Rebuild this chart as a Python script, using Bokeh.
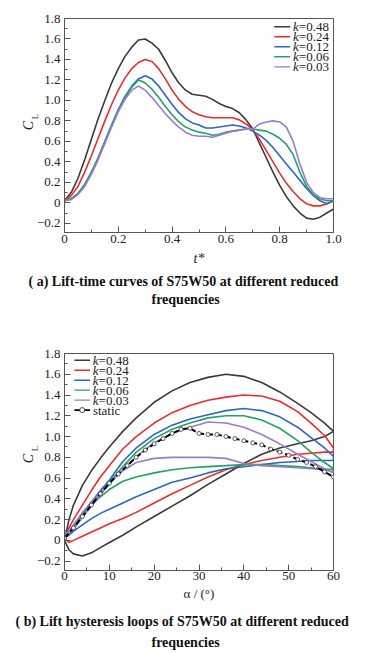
from bokeh.plotting import figure
from bokeh.models import Range1d, FixedTicker, Title, LinearAxis
from bokeh.layouts import column
from bokeh.core.properties import value
from bokeh.embed import file_html
from bokeh.resources import INLINE

# ---------------- data: (a) lift-time curves ----------------
t_star = [0, 0.025, 0.05, 0.075, 0.1, 0.125, 0.15, 0.175, 0.2, 0.225, 0.25, 0.275,
          0.3, 0.325, 0.35, 0.375, 0.4, 0.425, 0.45, 0.475, 0.5, 0.525, 0.55, 0.575,
          0.6, 0.625, 0.65, 0.675, 0.7, 0.725, 0.75, 0.775, 0.8, 0.825, 0.85, 0.875,
          0.9, 0.925, 0.95, 0.975, 1.0]
cl_t_k048 = [0.02, 0.10, 0.24, 0.42, 0.62, 0.82, 1.00, 1.17, 1.31, 1.43, 1.52, 1.59,
             1.60, 1.56, 1.50, 1.39, 1.27, 1.17, 1.10, 1.06, 1.05, 1.04, 1.01, 0.97,
             0.94, 0.92, 0.88, 0.81, 0.72, 0.58, 0.44, 0.30, 0.17, 0.06, -0.03, -0.10,
             -0.15, -0.16, -0.14, -0.10, -0.06]
cl_t_k024 = [0.02, 0.07, 0.16, 0.30, 0.46, 0.63, 0.80, 0.96, 1.10, 1.22, 1.31, 1.37,
             1.40, 1.38, 1.31, 1.21, 1.10, 1.01, 0.94, 0.89, 0.86, 0.84, 0.83, 0.83,
             0.83, 0.83, 0.81, 0.77, 0.71, 0.62, 0.51, 0.40, 0.29, 0.19, 0.11, 0.04,
             -0.01, -0.03, -0.03, -0.01, 0.02]
cl_t_k012 = [0.02, 0.04, 0.09, 0.18, 0.30, 0.44, 0.60, 0.76, 0.91, 1.04, 1.14, 1.21,
             1.24, 1.21, 1.14, 1.05, 0.96, 0.88, 0.82, 0.78, 0.76, 0.73, 0.73, 0.74,
             0.75, 0.76, 0.75, 0.73, 0.70, 0.66, 0.61, 0.54, 0.46, 0.38, 0.30, 0.22,
             0.14, 0.07, 0.02, -0.01, 0.02]
cl_t_k006 = [0.02, 0.04, 0.09, 0.17, 0.29, 0.43, 0.59, 0.75, 0.90, 1.03, 1.13, 1.20,
             1.17, 1.11, 1.03, 0.94, 0.86, 0.79, 0.74, 0.71, 0.69, 0.68, 0.66, 0.67,
             0.69, 0.70, 0.71, 0.72, 0.72, 0.71, 0.70, 0.67, 0.63, 0.57, 0.47, 0.30,
             0.16, 0.08, 0.04, 0.02, 0.02]
cl_t_k003 = [0.02, 0.03, 0.08, 0.16, 0.28, 0.42, 0.58, 0.74, 0.89, 1.01, 1.10, 1.14,
             1.10, 1.03, 0.95, 0.87, 0.80, 0.74, 0.69, 0.66, 0.65, 0.65, 0.64, 0.66,
             0.68, 0.70, 0.71, 0.72, 0.72, 0.77, 0.79, 0.80, 0.79, 0.74, 0.60, 0.38,
             0.20, 0.10, 0.05, 0.04, 0.04]

# ---------------- data: (b) hysteresis loops ----------------
alpha_up = [0, 1, 2, 4, 6, 8, 10, 13, 16, 20, 24, 28, 32, 36, 40, 44, 48, 52, 55, 58, 60]
alpha_down = [60, 58, 55, 52, 48, 44, 40, 36, 32, 28, 24, 20, 16, 13, 10, 8, 6, 4, 2, 1, 0]
cl_up_k048 = [0.00, 0.20, 0.34, 0.53, 0.67, 0.79, 0.90, 1.05, 1.18, 1.33, 1.44, 1.52,
              1.57, 1.60, 1.58, 1.52, 1.43, 1.32, 1.23, 1.13, 1.05]
cl_dn_k048 = [1.05, 1.00, 0.96, 0.93, 0.89, 0.83, 0.74, 0.64, 0.54, 0.43, 0.33, 0.23,
              0.13, 0.05, -0.02, -0.07, -0.12, -0.15, -0.13, -0.09, 0.00]
cl_up_k024 = [0.02, 0.12, 0.20, 0.34, 0.48, 0.61, 0.72, 0.88, 1.00, 1.13, 1.23, 1.30,
              1.35, 1.38, 1.40, 1.39, 1.34, 1.24, 1.13, 1.01, 0.89]
cl_dn_k024 = [0.85, 0.85, 0.84, 0.83, 0.80, 0.77, 0.73, 0.68, 0.61, 0.53, 0.45, 0.36,
              0.27, 0.21, 0.16, 0.12, 0.08, 0.04, 0.00, -0.02, 0.02]
cl_up_k012 = [0.02, 0.07, 0.12, 0.25, 0.37, 0.48, 0.58, 0.76, 0.89, 1.02, 1.11, 1.17,
              1.21, 1.25, 1.27, 1.25, 1.19, 1.09, 0.99, 0.89, 0.81]
cl_dn_k012 = [0.77, 0.77, 0.77, 0.76, 0.75, 0.73, 0.71, 0.69, 0.65, 0.60, 0.56, 0.49,
              0.42, 0.36, 0.30, 0.26, 0.21, 0.15, 0.09, 0.05, 0.02]
cl_up_k006 = [0.02, 0.07, 0.12, 0.24, 0.35, 0.46, 0.56, 0.71, 0.85, 0.98, 1.07, 1.13,
              1.18, 1.20, 1.20, 1.16, 1.08, 0.96, 0.85, 0.75, 0.69]
cl_dn_k006 = [0.68, 0.69, 0.70, 0.71, 0.72, 0.73, 0.73, 0.72, 0.71, 0.70, 0.68, 0.65,
              0.61, 0.57, 0.49, 0.42, 0.34, 0.25, 0.14, 0.09, 0.04]
cl_up_k003 = [0.02, 0.07, 0.11, 0.22, 0.33, 0.44, 0.54, 0.68, 0.81, 0.94, 1.03, 1.09,
              1.14, 1.13, 1.09, 1.02, 0.93, 0.83, 0.76, 0.69, 0.65]
cl_dn_k003 = [0.66, 0.68, 0.69, 0.70, 0.71, 0.72, 0.74, 0.79, 0.80, 0.80, 0.80, 0.79,
              0.75, 0.67, 0.55, 0.46, 0.37, 0.27, 0.15, 0.09, 0.04]
alpha_static = [0, 2, 4, 6, 8, 10, 12, 14, 16, 18, 20, 22, 24, 26, 28, 30, 32, 34, 36,
                38, 40, 42, 44, 46, 48, 50, 52, 54, 56, 58, 60]
cl_static = [0.02, 0.12, 0.23, 0.34, 0.45, 0.55, 0.64, 0.72, 0.80, 0.87, 0.93, 0.98,
             1.03, 1.07, 1.08, 1.03, 1.02, 1.02, 1.00, 0.98, 0.96, 0.94, 0.92, 0.88,
             0.85, 0.82, 0.78, 0.75, 0.71, 0.66, 0.61]

k_values = ["0.48", "0.24", "0.12", "0.06", "0.03"]
colors = ["#3a3a3a", "#ee2b2b", "#2b66c2", "#21a463", "#9b7bcb"]

# ticks
xt_a = [0, 0.2, 0.4, 0.6, 0.8, 1.0]
xt_a_labels = ["0", "0.2", "0.4", "0.6", "0.8", "1.0"]
xt_a_minor = [0.1, 0.3, 0.5, 0.7, 0.9]
xt_b = [0, 10, 20, 30, 40, 50, 60]
xt_b_labels = ["0", "10", "20", "30", "40", "50", "60"]
xt_b_minor = [5, 15, 25, 35, 45, 55]
yt = [-0.2, 0.0, 0.2, 0.4, 0.6, 0.8, 1.0, 1.2, 1.4, 1.6, 1.8]
yt_labels = ["\u22120.2", "0", "0.2", "0.4", "0.6", "0.8", "1.0", "1.2", "1.4", "1.6", "1.8"]
yt_minor = [-0.1, 0.1, 0.3, 0.5, 0.7, 0.9, 1.1, 1.3, 1.5, 1.7]

caption_a = ["( a) Lift-time curves of S75W50 at different reduced", "frequencies"]
caption_b = ["( b) Lift hysteresis loops of S75W50 at different reduced", "frequencies"]

SERIF = "Liberation Serif"
AX = "#555555"
TXT = "#222222"
EM = "\u2003"


def style(p, xt, xl, xm, x_standoff, c_text, l_text):
    p.grid.visible = False
    p.outline_line_color = AX
    p.outline_line_width = 1
    p.xaxis.ticker = FixedTicker(ticks=xt, minor_ticks=xm)
    p.xaxis.major_label_overrides = dict(zip(xt, xl))
    p.yaxis.ticker = FixedTicker(ticks=yt, minor_ticks=yt_minor)
    p.yaxis.major_label_overrides = dict(zip(yt, yt_labels))
    for ax in (p.xaxis[0], p.yaxis[0]):
        ax.axis_line_color = AX
        ax.major_tick_line_color = AX
        ax.minor_tick_line_color = AX
        ax.major_tick_in = 6
        ax.major_tick_out = 0
        ax.minor_tick_in = 3
        ax.minor_tick_out = 0
        ax.major_label_text_font = SERIF
        ax.major_label_text_font_size = "13px"
        ax.major_label_text_color = TXT
        ax.axis_label_text_font = SERIF
        ax.axis_label_text_color = TXT
    p.yaxis.major_label_standoff = 4
    p.xaxis.major_label_standoff = x_standoff
    # subscript "L" as the inner axis label, italic "C" on an outer, tick-less axis
    p.yaxis.axis_label = l_text
    p.yaxis.axis_label_text_font_style = "normal"
    p.yaxis.axis_label_text_font_size = "9px"
    p.yaxis.axis_label_standoff = -6
    c_axis = LinearAxis(ticker=FixedTicker(ticks=[]), axis_label=c_text,
                        axis_line_color=None, major_tick_line_color=None,
                        minor_tick_line_color=None, major_label_standoff=0,
                        major_tick_in=0, major_tick_out=0, minor_tick_in=0, minor_tick_out=0,
                        axis_label_text_font=SERIF, axis_label_text_font_style="italic",
                        axis_label_text_font_size="14px", axis_label_text_color=TXT,
                        axis_label_standoff=-9)
    p.add_layout(c_axis, "left")


def legend(p, labels, cols, x0, x1, xt_, ys):
    n = len(labels)
    p.segment(x0=[x0] * n, y0=ys[:n], x1=[x1] * n, y1=ys[:n], line_color=cols, line_width=1.4)
    p.text(x=[xt_] * n, y=ys[:n], text=["k"] * n, text_font=value(SERIF),
           text_font_style=value("italic"), text_font_size=value("13px"),
           text_align=value("right"), text_baseline=value("middle"), text_color=TXT)
    p.text(x=[xt_] * n, y=ys[:n], text=["=" + v for v in labels], text_font=value(SERIF),
           text_font_size=value("13px"), text_align=value("left"),
           text_baseline=value("middle"), text_color=TXT)


def caption(p, lines, offsets, standoffs):
    for txt, off, so in zip(lines, offsets, standoffs):
        p.add_layout(Title(text=txt, align="left", offset=off, standoff=so,
                           text_font=SERIF, text_font_style="bold", text_font_size="14px",
                           text_color="#111111"), "below")


# ---------------- figure (a) ----------------
pA = figure(width=380, height=312, x_range=Range1d(0, 1), y_range=Range1d(-0.29, 1.8),
            output_backend="svg", toolbar_location=None,
            min_border_left=64, min_border_right=47, min_border_top=18, min_border_bottom=80)
style(pA, xt_a, xt_a_labels, xt_a_minor, 2, "C", EM + EM + "L")
pA.xaxis.axis_label = "t*"
pA.xaxis.axis_label_text_font_style = "italic"
pA.xaxis.axis_label_text_font_size = "14px"
pA.xaxis.axis_label_standoff = 5
series_a = [cl_t_k048, cl_t_k024, cl_t_k012, cl_t_k006, cl_t_k003]
for ys, c in zip(series_a, colors):
    pA.line(t_star, ys, line_color=c, line_width=1.6)
legend(pA, k_values, colors, 0.780, 0.839, 0.871, [1.72 - 0.098 * i for i in range(5)])
caption(pA, caption_a, [-36, 87], [6, -3])

# ---------------- figure (b) ----------------
pB = figure(width=380, height=339, x_range=Range1d(0, 60), y_range=Range1d(-0.29, 1.8),
            output_backend="svg", toolbar_location=None,
            min_border_left=64, min_border_right=44, min_border_top=41, min_border_bottom=81)
style(pB, xt_b, xt_b_labels, xt_b_minor, 1, "\u2002C", EM + EM + EM + "L")
pB.xaxis.axis_label = "\u03b1 / (\u00b0)"
pB.xaxis.axis_label_text_font_style = "normal"
pB.xaxis.axis_label_text_font_size = "13px"
pB.xaxis.axis_label_standoff = 3
ups = [cl_up_k048, cl_up_k024, cl_up_k012, cl_up_k006, cl_up_k003]
dns = [cl_dn_k048, cl_dn_k024, cl_dn_k012, cl_dn_k006, cl_dn_k003]
for u, d, c in zip(ups, dns, colors):
    pB.line(alpha_up + alpha_down, u + d, line_color=c, line_width=1.6)
pB.line(alpha_static, cl_static, line_color="black", line_width=2, line_dash="6 3")
pB.scatter(alpha_static, cl_static, size=4, fill_color="white", line_color="#333333",
           line_width=0.8)
leg_y_b = [1.735 - 0.096 * i for i in range(6)]
legend(pB, k_values, colors, 2.2, 5.7, 7.61, leg_y_b)
pB.segment(x0=[2.2], y0=[leg_y_b[5]], x1=[5.7], y1=[leg_y_b[5]], line_color="black",
           line_width=1.6)
pB.scatter([3.95], [leg_y_b[5]], size=5, fill_color="white", line_color="#333333",
           line_width=0.9)
pB.text(x=[6.33], y=[leg_y_b[5]], text=["static"], text_font=value(SERIF),
        text_font_size=value("13px"), text_align=value("left"),
        text_baseline=value("middle"), text_color=TXT)
caption(pB, caption_b, [-49, 87], [17, -10])

layout = column(pA, pB)
open("out.html", "w").write(file_html(layout, INLINE))
